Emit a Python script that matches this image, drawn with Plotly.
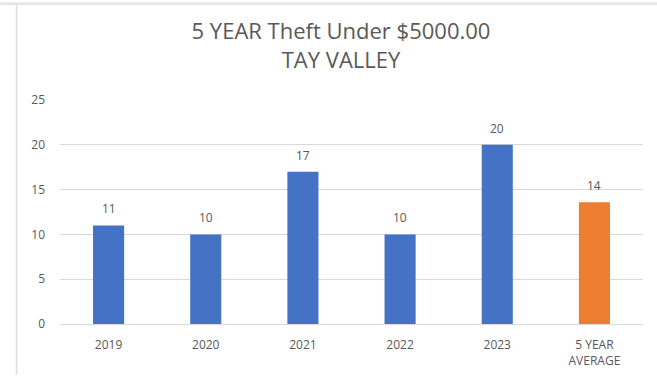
import plotly.graph_objects as go

categories = ["2019", "2020", "2021", "2022", "2023", "5 YEAR<br>AVERAGE"]
values = [11, 10, 17, 10, 20, 13.6]
colors = ["#4472C4", "#4472C4", "#4472C4", "#4472C4", "#4472C4", "#ED7D31"]
y_ticks = [0, 5, 10, 15, 20, 25]

W, H = 657, 381
ML, MR, MT, MB = 60, 14, 100, 52
FONT = "Open Sans, Liberation Sans, sans-serif"

fig = go.Figure(
    go.Bar(
        x=categories,
        y=values,
        marker=dict(color=colors, line=dict(width=0)),
        width=0.32,
        hoverinfo="x+y",
    )
)

pw = W - ML - MR
ph = H - MT - MB

def px_x(p):
    return (p - ML) / pw

def px_y(p):
    return (H - MB - p) / ph

# category axes take annotation x as the category index
annotations = [
    dict(x=i, y=v, xref="x", yref="y", text=f"{round(v):d}", showarrow=False,
         yanchor="bottom", yshift=6,
         font=dict(family=FONT, size=12, color="#595959"))
    for i, v in enumerate(values)
]

fig.update_layout(
    width=W,
    height=H,
    margin=dict(l=ML, r=MR, t=MT, b=MB),
    paper_bgcolor="white",
    plot_bgcolor="white",
    showlegend=False,
    title=dict(
        text="5 YEAR Theft Under $5000.00<br>TAY VALLEY",
        x=341 / W,
        xanchor="center",
        y=1 - 39 / H,
        yanchor="top",
        font=dict(family=FONT, size=22, color="#595959"),
    ),
    xaxis=dict(
        type="category",
        categoryorder="array",
        categoryarray=categories,
        range=[-0.5, len(categories) - 0.5],
        showgrid=False,
        showline=True,
        linecolor="#d9d9d9",
        linewidth=1,
        ticks="",
        ticklabelstandoff=10,
        tickfont=dict(family=FONT, size=12, color="#595959"),
    ),
    yaxis=dict(
        range=[0, 25],
        tickvals=y_ticks,
        showgrid=True,
        gridcolor="#d9d9d9",
        gridwidth=1,
        zeroline=False,
        showline=False,
        ticks="",
        ticklabelstandoff=14,
        tickfont=dict(family=FONT, size=12, color="#595959"),
    ),
    annotations=annotations,
    shapes=[
        dict(type="rect", xref="paper", yref="paper",
             x0=px_x(0), x1=px_x(W), y0=px_y(3), y1=px_y(0),
             fillcolor="#e6e6e6", line=dict(width=0), layer="below"),
        dict(type="line", xref="paper", yref="paper",
             x0=px_x(16.5), x1=px_x(16.5), y0=px_y(H), y1=px_y(3),
             line=dict(color="#dcdcdc", width=1.5)),
    ],
)

fig.write_html(
    "out.html",
    config={"displayModeBar": False},
    post_script="document.body.style.margin='0';document.body.style.overflow='hidden';",
)
